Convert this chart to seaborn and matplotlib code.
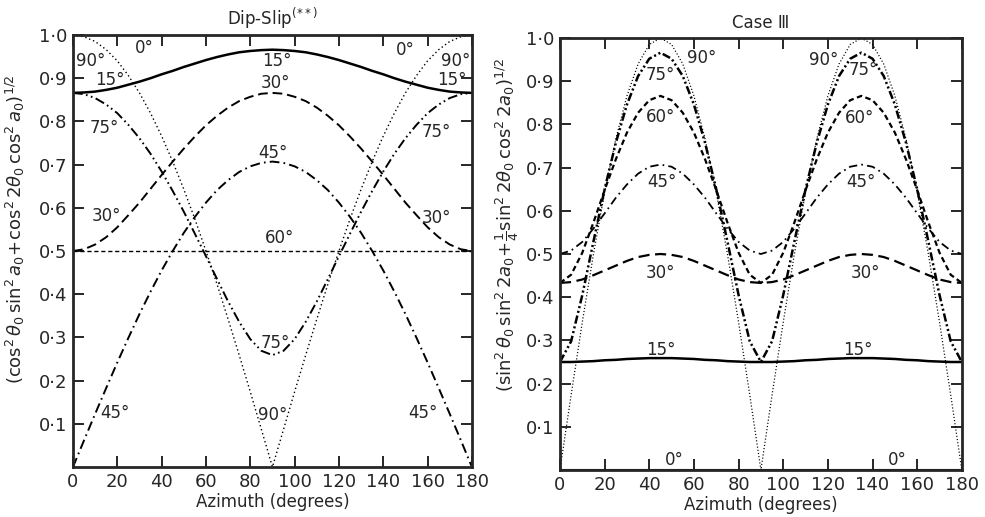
import matplotlib
matplotlib.use("Agg")
import matplotlib.pyplot as plt
import seaborn as sns

# azimuth samples (degrees)
azimuth = list(range(0, 181, 5))

# Dip-Slip panel, one curve per dip angle theta_0
dip_0 = [1.000] * 37
dip_15 = [0.866, 0.867, 0.869, 0.873, 0.878, 0.885, 0.892, 0.900, 0.909, 0.917,
          0.926, 0.934, 0.942, 0.949, 0.955, 0.960, 0.963, 0.965, 0.966, 0.965,
          0.963, 0.960, 0.955, 0.949, 0.942, 0.934, 0.926, 0.917, 0.909, 0.900,
          0.892, 0.885, 0.878, 0.873, 0.869, 0.867, 0.866]
dip_30 = [0.500, 0.504, 0.515, 0.532, 0.555, 0.583, 0.612, 0.644, 0.676, 0.707,
          0.737, 0.765, 0.791, 0.813, 0.832, 0.847, 0.857, 0.864, 0.866, 0.864,
          0.857, 0.847, 0.832, 0.813, 0.791, 0.765, 0.737, 0.707, 0.676, 0.644,
          0.612, 0.583, 0.555, 0.532, 0.515, 0.504, 0.500]
dip_45 = [0.000, 0.062, 0.123, 0.183, 0.242, 0.299, 0.354, 0.406, 0.455, 0.500,
          0.542, 0.579, 0.612, 0.641, 0.664, 0.683, 0.696, 0.704, 0.707, 0.704,
          0.696, 0.683, 0.664, 0.641, 0.612, 0.579, 0.542, 0.500, 0.455, 0.406,
          0.354, 0.299, 0.242, 0.183, 0.123, 0.062, 0.000]
dip_60 = [0.500, 0.500, 0.500, 0.500, 0.500, 0.500, 0.500, 0.500, 0.500, 0.500,
          0.500, 0.500, 0.500, 0.500, 0.500, 0.500, 0.500, 0.500, 0.500, 0.500,
          0.500, 0.500, 0.500, 0.500, 0.500, 0.500, 0.500, 0.500, 0.500, 0.500,
          0.500, 0.500, 0.500, 0.500, 0.500, 0.500, 0.500]
dip_75 = [0.866, 0.863, 0.854, 0.839, 0.819, 0.792, 0.761, 0.725, 0.684, 0.639,
          0.591, 0.540, 0.488, 0.435, 0.383, 0.336, 0.296, 0.269, 0.259, 0.269,
          0.296, 0.336, 0.383, 0.435, 0.488, 0.540, 0.591, 0.639, 0.684, 0.725,
          0.761, 0.792, 0.819, 0.839, 0.854, 0.863, 0.866]
dip_90 = [1.000, 0.996, 0.985, 0.966, 0.940, 0.906, 0.866, 0.819, 0.766, 0.707,
          0.643, 0.574, 0.500, 0.423, 0.342, 0.259, 0.174, 0.087, 0.000, 0.087,
          0.174, 0.259, 0.342, 0.423, 0.500, 0.574, 0.643, 0.707, 0.766, 0.819,
          0.866, 0.906, 0.940, 0.966, 0.985, 0.996, 1.000]

# Case III panel
c3_0 = [0.000] * 37
c3_15 = [0.250, 0.250, 0.251, 0.252, 0.254, 0.255, 0.257, 0.258, 0.259, 0.259,
         0.259, 0.258, 0.257, 0.255, 0.254, 0.252, 0.251, 0.250, 0.250, 0.250,
         0.251, 0.252, 0.254, 0.255, 0.257, 0.258, 0.259, 0.259, 0.259, 0.258,
         0.257, 0.255, 0.254, 0.252, 0.251, 0.250, 0.250]
c3_30 = [0.433, 0.435, 0.441, 0.451, 0.462, 0.473, 0.484, 0.493, 0.498, 0.500,
         0.498, 0.493, 0.484, 0.473, 0.462, 0.451, 0.441, 0.435, 0.433, 0.435,
         0.441, 0.451, 0.462, 0.473, 0.484, 0.493, 0.498, 0.500, 0.498, 0.493,
         0.484, 0.473, 0.462, 0.451, 0.441, 0.435, 0.433]
c3_45 = [0.500, 0.508, 0.528, 0.559, 0.594, 0.630, 0.661, 0.686, 0.702, 0.707,
         0.702, 0.686, 0.661, 0.630, 0.594, 0.559, 0.528, 0.508, 0.500, 0.508,
         0.528, 0.559, 0.594, 0.630, 0.661, 0.686, 0.702, 0.707, 0.702, 0.686,
         0.661, 0.630, 0.594, 0.559, 0.528, 0.508, 0.500]
c3_60 = [0.433, 0.452, 0.503, 0.573, 0.648, 0.719, 0.781, 0.827, 0.856, 0.866,
         0.856, 0.827, 0.781, 0.719, 0.648, 0.573, 0.503, 0.452, 0.433, 0.452,
         0.503, 0.573, 0.648, 0.719, 0.781, 0.827, 0.856, 0.866, 0.856, 0.827,
         0.781, 0.719, 0.648, 0.573, 0.503, 0.452, 0.433]
c3_75 = [0.250, 0.298, 0.405, 0.529, 0.650, 0.757, 0.846, 0.912, 0.952, 0.966,
         0.952, 0.912, 0.846, 0.757, 0.650, 0.529, 0.405, 0.298, 0.250, 0.298,
         0.405, 0.529, 0.650, 0.757, 0.846, 0.912, 0.952, 0.966, 0.952, 0.912,
         0.846, 0.757, 0.650, 0.529, 0.405, 0.298, 0.250]
c3_90 = [0.000, 0.174, 0.342, 0.500, 0.643, 0.766, 0.866, 0.940, 0.985, 1.000,
         0.985, 0.940, 0.866, 0.766, 0.643, 0.500, 0.342, 0.174, 0.000, 0.174,
         0.342, 0.500, 0.643, 0.766, 0.866, 0.940, 0.985, 1.000, 0.985, 0.940,
         0.866, 0.766, 0.643, 0.500, 0.342, 0.174, 0.000]

xticks = [0, 20, 40, 60, 80, 100, 120, 140, 160, 180]
yticks = [0.1, 0.2, 0.3, 0.4, 0.5, 0.6, 0.7, 0.8, 0.9, 1.0]
ytick_labels = ["0\u00b71", "0\u00b72", "0\u00b73", "0\u00b74", "0\u00b75",
                "0\u00b76", "0\u00b77", "0\u00b78", "0\u00b79", "1\u00b70"]

sns.set_style("ticks")
plt.rcParams["font.family"] = ["DejaVu Sans"]
plt.rcParams["mathtext.fontset"] = "dejavusans"
plt.rcParams["lines.scale_dashes"] = False

deg = "\u00b0"

# (values, linestyle, linewidth)
dip_curves = [
    (dip_0, "-", 1.5),
    (dip_15, "-", 1.8),
    (dip_30, (0, (7, 3.5)), 1.4),
    (dip_45, (0, (7, 3, 1.2, 3)), 1.4),
    (dip_60, (0, (3, 2)), 1.0),
    (dip_75, (0, (7, 2.5, 1.2, 2.5, 1.2, 2.5)), 1.4),
    (dip_90, (0, (1, 2)), 1.0),
]
c3_curves = [
    (c3_0, "-", 1.5),
    (c3_15, "-", 1.8),
    (c3_30, (0, (8, 4)), 1.6),
    (c3_45, (0, (6, 3, 1.2, 3)), 1.3),
    (c3_60, (0, (4, 2.5)), 1.6),
    (c3_75, (0, (6, 2, 1.5, 2, 1.5, 2)), 1.8),
    (c3_90, (0, (0.8, 1.5)), 0.9),
]

dip_labels = [("90", 8, 0.94), ("0", 32, 0.97), ("15", 16.5, 0.896),
              ("75", 14, 0.785), ("30", 15, 0.58), ("45", 19, 0.125),
              ("15", 92, 0.94), ("30", 91.5, 0.89), ("45", 90, 0.727),
              ("60", 93, 0.53), ("75", 91.5, 0.287), ("90", 90, 0.12),
              ("0", 150, 0.965), ("90", 172.7, 0.94), ("15", 171, 0.896),
              ("75", 164, 0.775), ("30", 164, 0.576), ("45", 158, 0.125)]
c3_labels = [("90", 63.6, 0.954), ("75", 44.8, 0.914), ("60", 45, 0.817),
             ("45", 45.7, 0.667), ("30", 45, 0.456), ("15", 45, 0.278),
             ("0", 51, 0.023), ("90", 118, 0.95), ("75", 135.8, 0.926),
             ("60", 134.3, 0.815), ("45", 134.8, 0.667), ("30", 136.6, 0.456),
             ("15", 133.5, 0.278), ("0", 151, 0.023)]

fig = plt.figure(figsize=(9.85, 5.17), dpi=100)
ax1 = fig.add_axes([0.0741, 0.0967, 0.405, 0.8356])
ax2 = fig.add_axes([0.5685, 0.0909, 0.408, 0.8356])


def draw_panel(ax, curves, labels, title, ylabel, label_x, label_y):
    for vals, ls, lw in curves:
        sns.lineplot(x=azimuth, y=vals, ax=ax, color="black",
                     linestyle=ls, linewidth=lw)
    for txt, x, y in labels:
        ax.text(x, y, txt + deg, ha="center", va="center", fontsize=12)
    ax.set_xlim(0, 180)
    ax.set_ylim(0, 1)
    ax.set_xticks(xticks)
    ax.set_xticklabels([str(t) for t in xticks])
    ax.set_yticks(yticks)
    ax.set_yticklabels(ytick_labels)
    ax.tick_params(direction="in", length=8, width=1.4, labelsize=13,
                   top=True, right=True, pad=4)
    for sp in ax.spines.values():
        sp.set_linewidth(2)
        sp.set_visible(True)
    ax.set_title(title, fontsize=12, pad=7)
    ax.set_xlabel("Azimuth (degrees)", fontsize=12, labelpad=2)
    ax.set_ylabel(ylabel, fontsize=13)
    ax.yaxis.set_label_coords(label_x, label_y)


draw_panel(ax1, dip_curves, dip_labels, "Dip-Slip$^{(**)}$",
           r"$(\cos^2\theta_0\,\sin^2 a_0\!+\!\cos^2 2\theta_0\,\cos^2 a_0)^{1/2}$",
           -0.115, 0.55)
draw_panel(ax2, c3_curves, c3_labels, "Case \u2162",
           r"$(\sin^2\theta_0\,\sin^2 2a_0\!+\!\frac{1}{4}\sin^2 2\theta_0\,\cos^2 2a_0)^{1/2}$",
           -0.098, 0.567)

fig.savefig("out.png", dpi=100)
